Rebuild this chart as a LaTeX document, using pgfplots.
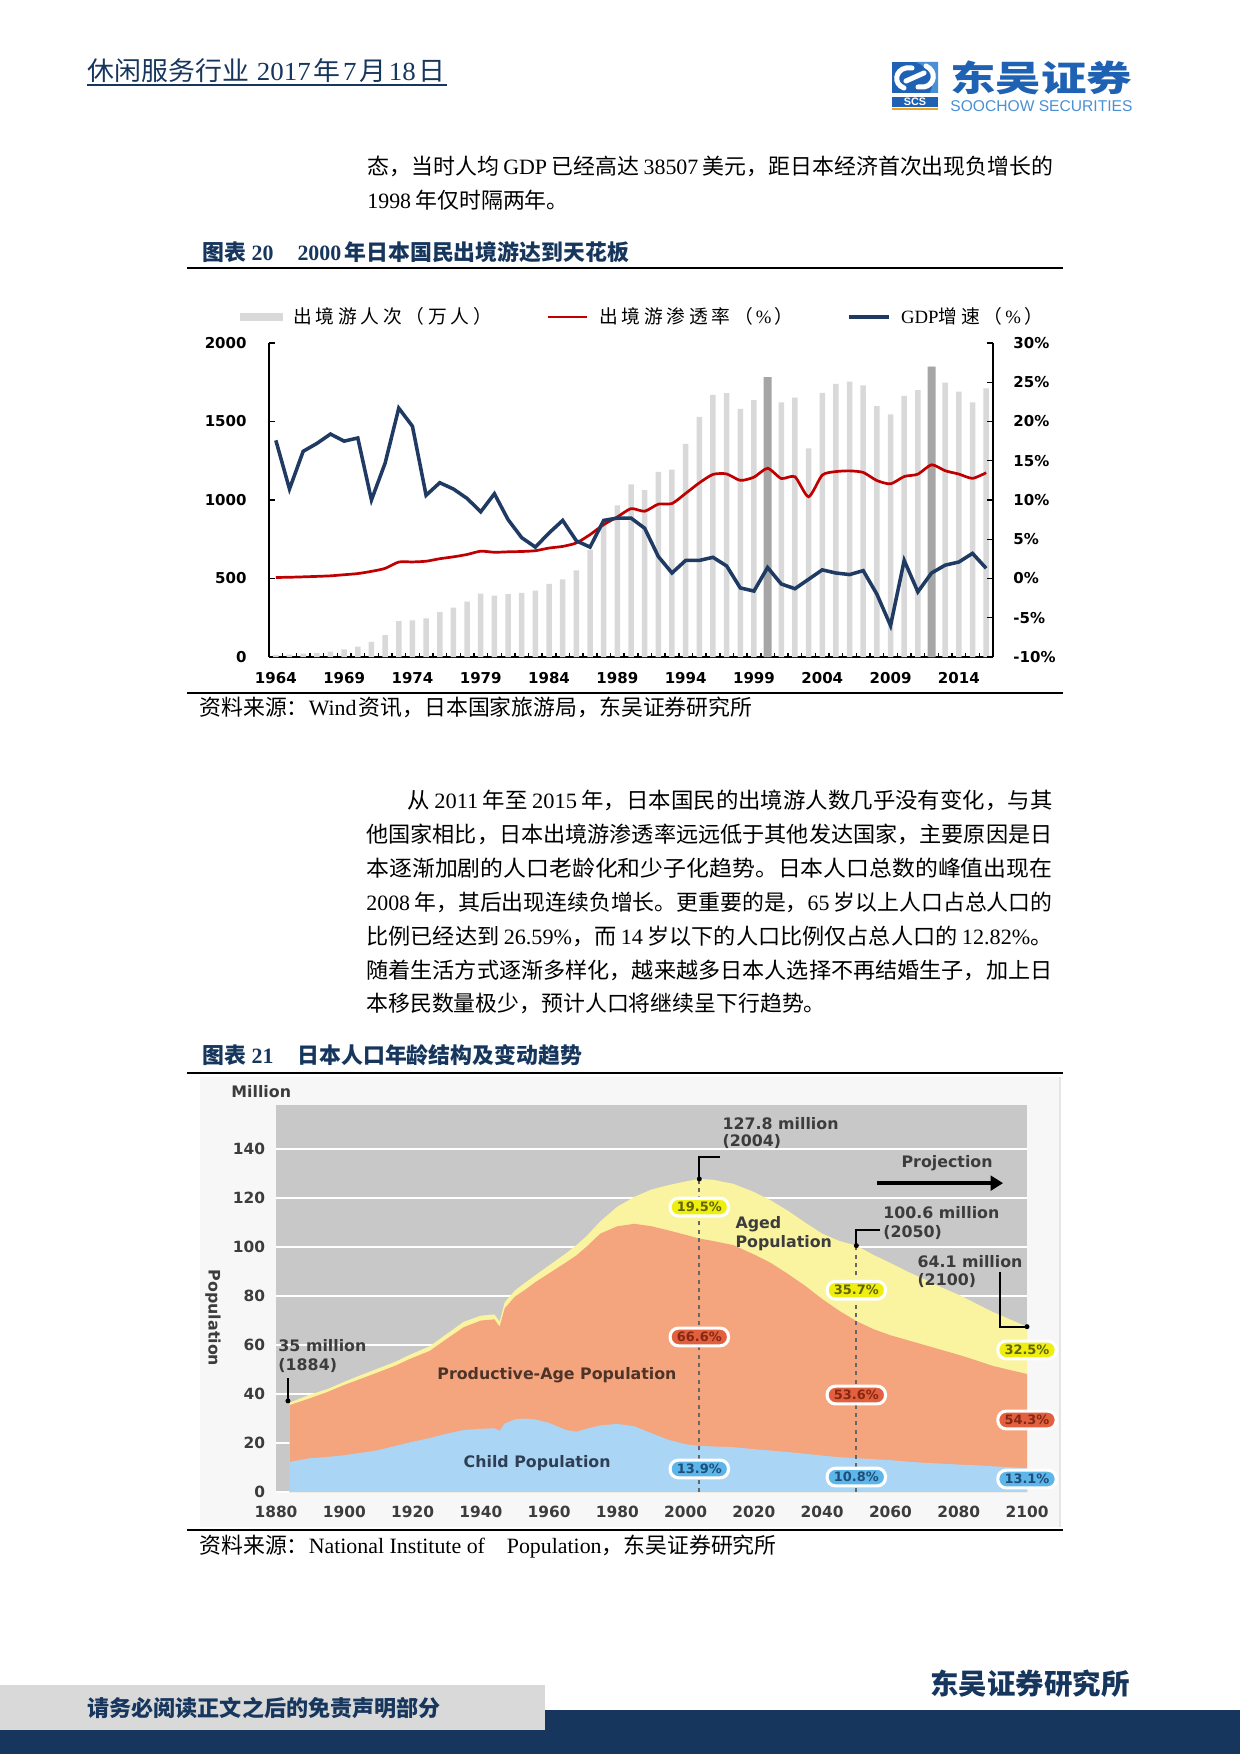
\documentclass[border=0pt]{standalone}
\usepackage{fontspec}
\usepackage{graphicx}
\usepackage{pgfplots}
\usepackage{pgfplotstable}
\pgfplotsset{compat=1.18}
\usetikzlibrary{arrows.meta}
\setmainfont{Noto Sans CJK SC}
\newfontfamily\tnr{Liberation Serif}
\newfontfamily\dvs{DejaVu Sans}
\newfontfamily\lsans{Liberation Sans}
\newfontfamily\legcjk{Noto Sans CJK SC}[LetterSpace=20]
\newcommand\fs[1]{\fontsize{#1pt}{#1pt}\selectfont}
\newcommand\T[1]{{\tnr #1}}
\newcommand\jl[2]{\resizebox{#1}{\height}{#2}}
\definecolor{navy}{HTML}{17365D}
\definecolor{barL}{HTML}{D9D9D9}
\definecolor{barD}{HTML}{A6A6A6}
\definecolor{cred}{HTML}{C00000}
\definecolor{cnavy}{HTML}{1F3B63}
\definecolor{cbg}{HTML}{C8C8C8}
\definecolor{cyel}{HTML}{FAF4A0}
\definecolor{cora}{HTML}{F4A57E}
\definecolor{cblu}{HTML}{ABD5F5}
\definecolor{yB}{HTML}{EEEE10}
\definecolor{yT}{HTML}{62620A}
\definecolor{rB}{HTML}{E2603F}
\definecolor{rT}{HTML}{842812}
\definecolor{bB}{HTML}{5DB6EA}
\definecolor{bT}{HTML}{1E4E78}
\definecolor{tickgray}{HTML}{3C3C3C}
\definecolor{prodT}{HTML}{4E3328}
\definecolor{childT}{HTML}{2E3F55}
\definecolor{logoblue}{HTML}{1F62B4}
\definecolor{logolight}{HTML}{4A90D4}
\definecolor{logoorange}{HTML}{F2A020}
\tikzset{
  badge/.style={rounded corners=4pt, draw=white, line width=1.5pt, minimum width=28pt, minimum height=8.5pt, inner sep=0pt, font={\dvs\bfseries\fs{6.2}}},
  annot/.style={inner sep=0pt, text=tickgray, font={\dvs\bfseries\fs{7.6}}},
  pg/.style={x=0.48pt,y=-0.48pt},
}

\pgfplotstableread{
yr out
1964 12.8
1965 15.9
1966 21.2
1967 26.8
1968 34.4
1969 49.3
1970 66.3
1971 96.1
1972 139.2
1973 228.9
1974 233.6
1975 246.6
1976 285.3
1977 315.1
1978 352.6
1979 403.8
1980 390.9
1981 400.7
1982 408.6
1983 423.3
1984 465.9
1985 494.8
1986 551.6
1987 682.9
1988 842.7
1989 966.3
1990 1099.7
1991 1063.4
1992 1179.1
1993 1193.4
1994 1357.9
1995 1529.8
1996 1669.5
1997 1680.3
1998 1580.6
1999 1635.8
2000 1781.9
2001 1621.6
2002 1652.3
2003 1329.6
2004 1683.1
2005 1740.4
2006 1753.5
2007 1729.5
2008 1598.7
2009 1544.6
2010 1663.7
2011 1699.4
2012 1849.1
2013 1747.3
2014 1690.3
2015 1621.4
2016 1711.6
}\outdata

\pgfplotstableread{
yr pen gdp
1964 0.13 17.6
1965 0.16 11.4
1966 0.21 16.2
1967 0.27 17.2
1968 0.34 18.4
1969 0.48 17.5
1970 0.63 17.9
1971 0.91 10.0
1972 1.29 14.7
1973 2.10 21.7
1974 2.11 19.4
1975 2.20 10.6
1976 2.52 12.2
1977 2.76 11.4
1978 3.06 10.2
1979 3.48 8.5
1980 3.34 10.8
1981 3.40 7.5
1982 3.44 5.2
1983 3.54 4.0
1984 3.88 5.8
1985 4.09 7.4
1986 4.53 4.8
1987 5.59 4.0
1988 6.86 7.4
1989 7.84 7.7
1990 8.90 7.7
1991 8.57 6.4
1992 9.47 2.8
1993 9.55 0.7
1994 10.84 2.3
1995 12.18 2.3
1996 13.26 2.7
1997 13.32 1.6
1998 12.50 -1.2
1999 12.91 -1.6
2000 14.04 1.4
2001 12.74 -0.7
2002 12.96 -1.3
2003 10.41 -0.1
2004 13.17 1.1
2005 13.62 0.7
2006 13.71 0.5
2007 13.51 1.0
2008 12.48 -2.0
2009 12.06 -6.0
2010 12.99 2.3
2011 13.29 -1.7
2012 14.49 0.7
2013 13.73 1.7
2014 13.30 2.1
2015 12.76 3.2
2016 13.48 1.3
}\ratedata

\pgfplotstableread{
yr tot work child
1884 36.5 35.5 12.3
1890 39.8 38.3 13.8
1895 42.0 40.8 14.3
1900 45.0 43.7 15.0
1905 47.8 46.3 16.0
1910 50.5 48.9 17.1
1915 53.2 51.6 18.8
1919 55.9 54.2 20.2
1925 59.5 57.6 22.0
1930 64.5 62.5 23.8
1935 69.5 67.3 25.3
1940 72.0 70.0 25.8
1944 72.5 70.5 26.0
1945.5 69.5 67.5 25.0
1947 77.5 75.0 28.0
1950 82.3 79.8 29.6
1953 85.5 82.6 30.0
1956 88.5 85.7 29.6
1960 92.5 89.3 28.2
1965 97.5 93.8 25.3
1968 100.8 96.6 24.6
1971 104.5 100.2 25.8
1975 110.5 105.5 27.2
1980 116.5 108.5 27.8
1985 120.5 109.5 26.8
1990 123.5 108.5 24.0
1995 125.3 106.8 21.3
2000 126.8 105.0 19.5
2004 127.8 103.5 18.8
2008 127.5 102.5 18.6
2014 125.8 100.8 18.3
2020 122.5 97.0 17.5
2025 119.0 93.5 16.9
2030 114.8 89.0 16.3
2035 110.0 84.2 15.6
2040 105.5 78.8 14.9
2045 102.5 74.0 14.2
2050 100.6 69.8 13.8
2055 96.8 66.5 13.4
2060 93.5 64.0 13.0
2065 90.0 62.0 12.4
2070 86.8 60.0 11.9
2075 83.5 58.0 11.6
2080 80.5 56.0 11.2
2085 77.0 53.8 10.9
2090 73.5 51.5 10.5
2095 70.5 49.8 10.1
2100 67.5 48.2 9.7
}\popdata

\begin{document}
\begin{tikzpicture}
\begin{scope}[pg]
\path[fill=white] (0,0) rectangle (1240,1754);

% ---------- header ----------
\node[anchor=west,inner sep=0pt,text=navy] at (87,71) {\fs{12.5}\jl{171.84pt}{休闲服务行业\hspace{0.3em}\T{2017}\hspace{0.1em}年\hspace{0.1em}\T{7}\hspace{0.1em}月\hspace{0.1em}\T{18}\hspace{0.1em}日}};
\draw[navy,line width=0.7pt] (87,85) -- (447,85);
% logo
\fill[logoblue] (892,62) rectangle (938,93);
\fill[logolight] (916,62) -- (938,62) -- (938,93) -- (930,93) .. controls (936,80) and (930,68) .. (916,62) -- cycle;
\draw[white,line width=2.4pt,line cap=round] (904,88) .. controls (893,84) and (895,70) .. (906,68) -- (912,68);
\draw[white,line width=2.4pt,line cap=round] (926,66) .. controls (937,71) and (935,85) .. (924,87) -- (918,87);
\draw[white,line width=2.4pt,line cap=round] (906,81) -- (924,73);
\fill[logoblue] (892,97) rectangle (938,107);
\node[text=white,inner sep=0pt,font=\lsans\bfseries\fs{5.2}] at (915,102) {SCS};
\fill[logoorange] (892,108.5) rectangle (938,110.5);
\node[anchor=west,inner sep=0pt,text=logoblue] at (950,78) {\fs{17}\bfseries\jl{87.36pt}{东吴证券}};
\node[anchor=west,inner sep=0pt,text=logolight] at (950,106) {\lsans\fs{7.5}\jl{87.36pt}{SOOCHOW SECURITIES}};

% ---------- paragraph 1 ----------
\node[anchor=west,inner sep=0pt] at (367,166) {\fs{10.5}\jl{329.28pt}{态，当时人均\hspace{0.2em}\T{GDP}\hspace{0.2em}已经高达\hspace{0.2em}\T{38507}\hspace{0.2em}美元，距日本经济首次出现负增长的}};
\node[anchor=west,inner sep=0pt] at (367,200) {\fs{10.5}\T{1998}\hspace{0.2em}年仅时隔两年。};

% ---------- figure 20 frame ----------
\node[anchor=west,inner sep=0pt,text=navy] at (202,252) {\fs{10.5}\bfseries 图表\hspace{0.25em}\T{20}\hspace{1.1em}\T{2000}\hspace{0.15em}年日本国民出境游达到天花板};
\draw[line width=1.3pt] (187,268) -- (1063,268);
\draw[line width=1pt] (187,693) -- (1063,693);
\node[anchor=west,inner sep=0pt] at (199,707) {\fs{10.5}资料来源：\T{Wind}\hspace{0.1em}资讯，日本国家旅游局，东吴证券研究所};

% ---------- paragraph 2 ----------
\node[anchor=west,inner sep=0pt] at (407,800) {\fs{10.5}\jl{309.6pt}{从\hspace{0.2em}\T{2011}\hspace{0.2em}年至\hspace{0.2em}\T{2015}\hspace{0.2em}年，日本国民的出境游人数几乎没有变化，与其}};
\node[anchor=west,inner sep=0pt] at (366,834) {\fs{10.5}\jl{329.28pt}{他国家相比，日本出境游渗透率远远低于其他发达国家，主要原因是日}};
\node[anchor=west,inner sep=0pt] at (366,868) {\fs{10.5}\jl{329.28pt}{本逐渐加剧的人口老龄化和少子化趋势。日本人口总数的峰值出现在}};
\node[anchor=west,inner sep=0pt] at (366,902) {\fs{10.5}\jl{329.28pt}{\T{2008}\hspace{0.2em}年，其后出现连续负增长。更重要的是，\T{65}\hspace{0.2em}岁以上人口占总人口的}};
\node[anchor=west,inner sep=0pt] at (366,936) {\fs{10.5}\jl{329.28pt}{比例已经达到\hspace{0.2em}\T{26.59\%}，而\hspace{0.2em}\T{14}\hspace{0.2em}岁以下的人口比例仅占总人口的\hspace{0.2em}\T{12.82\%}。}};
\node[anchor=west,inner sep=0pt] at (366,970) {\fs{10.5}\jl{329.28pt}{随着生活方式逐渐多样化，越来越多日本人选择不再结婚生子，加上日}};
\node[anchor=west,inner sep=0pt] at (366,1003) {\fs{10.5}本移民数量极少，预计人口将继续呈下行趋势。};

% ---------- figure 21 frame ----------
\node[anchor=west,inner sep=0pt,text=navy] at (202,1055) {\fs{10.5}\bfseries 图表\hspace{0.25em}\T{21}\hspace{1.1em}日本人口年龄结构及变动趋势};
\draw[line width=1.3pt] (187,1073) -- (1063,1073);
\fill[black!3] (200,1077) rectangle (1060,1527);
\draw[black!10,line width=0.5pt] (1060,1077) -- (1060,1527);
\draw[line width=1pt] (187,1530) -- (1063,1530);
\node[anchor=west,inner sep=0pt] at (199,1547) {\fs{10.5}资料来源：\T{National Institute of\hspace{1em}Population}，东吴证券研究所};
\node[anchor=west,inner sep=0pt,text=tickgray,font={\dvs\bfseries\fs{7.6}}] at (231,1092) {Million};
\node[rotate=-90,inner sep=0pt,text=tickgray,font={\dvs\bfseries\fs{7.6}}] at (213,1318) {Population};

% ---------- footer ----------
\fill[navy] (0,1710) rectangle (1240,1754);
\fill[barL] (0,1685) rectangle (545,1730);
\node[anchor=west,inner sep=0pt,text=navy] at (87,1708) {\fs{10.6}\bfseries 请务必阅读正文之后的免责声明部分};
\node[anchor=west,inner sep=0pt,text=navy] at (930,1684) {\fs{13.6}\bfseries\jl{95.52pt}{东吴证券研究所}};
\end{scope}

% ================= chart 1 =================
\begin{axis}[
  at={(129.12pt,-315.36pt)}, anchor=south west, scale only axis,
  width=347.52pt, height=150.72pt,
  xmin=1963.5, xmax=2016.5, ymin=0, ymax=2000,
  axis y line*=left, axis x line*=bottom,
  axis line style={-, line width=0.9pt, black},
  xtick={1964,1969,...,2014},
  minor xtick={1964.5,1965.5,...,2015.5},
  major x tick style={draw=none},
  minor x tick style={black, line width=0.7pt},
  minor tick length=2pt,
  ytick={0,500,...,2000},
  y tick style={black, line width=0.7pt},
  major tick length=3pt,
  tick align=inside,
  /pgf/number format/1000 sep={},
  /pgf/number format/assume math mode=true,
  xticklabel style={font={\dvs\bfseries\fs{7.2}}, inner sep=0pt, anchor=north, yshift=-7.2pt},
  yticklabel style={font={\dvs\bfseries\fs{7.2}}, inner sep=0pt, anchor=east, xshift=-10.6pt},
]
\addplot[ybar, bar width=2.64pt, bar shift=0pt, fill=barL, draw=none] table[x=yr,y=out] {\outdata};
\addplot[ybar, bar width=3.84pt, bar shift=0pt, fill=barD, draw=none] coordinates {(2000,1781.9) (2012,1849.1)};
\end{axis}

\begin{axis}[
  at={(129.12pt,-315.36pt)}, anchor=south west, scale only axis,
  width=347.52pt, height=150.72pt,
  xmin=1963.5, xmax=2016.5, ymin=-10, ymax=30,
  axis y line*=right, axis x line=none,
  axis line style={-, line width=0.9pt, black},
  ytick={-10,-5,...,30},
  y tick style={black, line width=0.7pt},
  major tick length=3pt,
  tick align=inside,
  /pgf/number format/assume math mode=true,
  yticklabel={\pgfmathprintnumber{\tick}\%},
  yticklabel style={font={\dvs\bfseries\fs{7.2}}, inner sep=0pt, anchor=west, xshift=9.6pt},
  legend columns=3,
  legend image code/.code={\draw[#1] (0pt,0pt) -- (19pt,0pt);},
  legend style={at={(-0.040,1.083)}, anchor=west, draw=none, fill=none, inner sep=0pt,
     font={\legcjk\fs{9}}, legend cell align=left,
     /tikz/every odd column/.append style={column sep=3pt},
     /tikz/every even column/.append style={column sep=24pt}},
]
\addlegendimage{legend image code/.code={\fill[barL] (0pt,-1.9pt) rectangle (20pt,1.9pt);}}
\addlegendentry{出境游人次（万人）}
\addplot[cred, line width=1.3pt, smooth, tension=0.4] table[x=yr,y=pen] {\ratedata};
\addlegendentry{出境游渗透率（\,\T{\%}\,）}
\addplot[cnavy, line width=1.7pt] table[x=yr,y=gdp] {\ratedata};
\addlegendentry{\T{GDP}增速（\,\T{\%}\,）}
\end{axis}

% ================= chart 2 =================
\begin{axis}[
  at={(132.48pt,-716.16pt)}, anchor=south west, scale only axis,
  width=360.48pt, height=185.76pt,
  xmin=1880, xmax=2100, ymin=0, ymax=158,
  axis background/.style={fill=cbg},
  axis line style={draw=none},
  ymajorgrids, grid style={white, line width=1pt},
  ytick={0,20,...,140}, xtick={1880,1900,...,2100},
  major tick length=0pt,
  /pgf/number format/1000 sep={},
  /pgf/number format/assume math mode=true,
  tick label style={font={\dvs\bfseries\fs{7.4}}, text=tickgray, inner sep=0pt},
  xticklabel style={anchor=north, yshift=-6.7pt},
  yticklabel style={anchor=east, xshift=-5pt},
  clip=false,
]
\addplot[fill=cyel, draw=none] table[x=yr,y=tot] {\popdata} \closedcycle;
\addplot[fill=cora, draw=none] table[x=yr,y=work] {\popdata} \closedcycle;
\addplot[fill=cblu, draw=none] table[x=yr,y=child] {\popdata} \closedcycle;

\draw[black!60, line width=0.9pt, dash pattern=on 2pt off 2pt] (axis cs:2004,0) -- (axis cs:2004,127.8);
\draw[black!60, line width=0.9pt, dash pattern=on 2pt off 2pt] (axis cs:2050,0) -- (axis cs:2050,100.6);

\draw[black, line width=1pt] (axis cs:2004,127.8) -- (axis cs:2004,136.7) -- (axis cs:2010.1,136.7);
\fill[black] (axis cs:2004,127.8) circle (1.2pt);
\node[annot, anchor=west] at (axis cs:2010.7,150.6) {127.8 million};
\node[annot, anchor=west] at (axis cs:2010.7,142.9) {(2004)};

\draw[black, line width=1pt] (axis cs:2050,100.6) -- (axis cs:2050,106.9) -- (axis cs:2057,106.9);
\fill[black] (axis cs:2050,100.6) circle (1.2pt);
\node[annot, anchor=west] at (axis cs:2057.8,113.9) {100.6 million};
\node[annot, anchor=west] at (axis cs:2057.8,106.1) {(2050)};

\draw[black, line width=1pt] (axis cs:2092.1,89.8) -- (axis cs:2092.1,67.5) -- (axis cs:2100,67.5);
\fill[black] (axis cs:2100,67.5) circle (1.2pt);
\node[annot, anchor=west] at (axis cs:2067.8,93.9) {64.1 million};
\node[annot, anchor=west] at (axis cs:2067.8,86.5) {(2100)};

\node[annot] at (axis cs:2076.6,134.3) {Projection};
\draw[black, line width=2.2pt, -{Triangle[length=6pt,width=7pt]}] (axis cs:2056.1,126.1) -- (axis cs:2093,126.1);

\node[annot, anchor=west] at (axis cs:2014.5,109.4) {Aged};
\node[annot, anchor=west] at (axis cs:2014.5,101.6) {Population};
\node[annot, text=prodT] at (axis cs:1962.3,47.8) {Productive-Age Population};
\node[annot, text=childT] at (axis cs:1956.5,11.8) {Child Population};

\draw[black, line width=1pt] (axis cs:1883.5,46.5) -- (axis cs:1883.5,37.5);
\fill[black] (axis cs:1883.5,37.2) circle (1.2pt);
\node[annot, anchor=west] at (axis cs:1880.6,59.6) {35 million};
\node[annot, anchor=west] at (axis cs:1880.6,51.8) {(1884)};

\node[badge, fill=yB, text=yT] at (axis cs:2004,116.3) {19.5\%};
\node[badge, fill=rB, text=rT] at (axis cs:2004,63.3) {66.6\%};
\node[badge, fill=bB, text=bT] at (axis cs:2004,9.4) {13.9\%};
\node[badge, fill=yB, text=yT] at (axis cs:2050,82.4) {35.7\%};
\node[badge, fill=rB, text=rT] at (axis cs:2050,39.6) {53.6\%};
\node[badge, fill=bB, text=bT] at (axis cs:2050,6.1) {10.8\%};
\node[badge, fill=yB, text=yT] at (axis cs:2100,58) {32.5\%};
\node[badge, fill=rB, text=rT] at (axis cs:2100,29.4) {54.3\%};
\node[badge, fill=bB, text=bT] at (axis cs:2100,5.3) {13.1\%};
\end{axis}

\pgfresetboundingbox
\path[use as bounding box] (0pt,0pt) rectangle (595.2pt,-841.92pt);
\end{tikzpicture}
\end{document}
